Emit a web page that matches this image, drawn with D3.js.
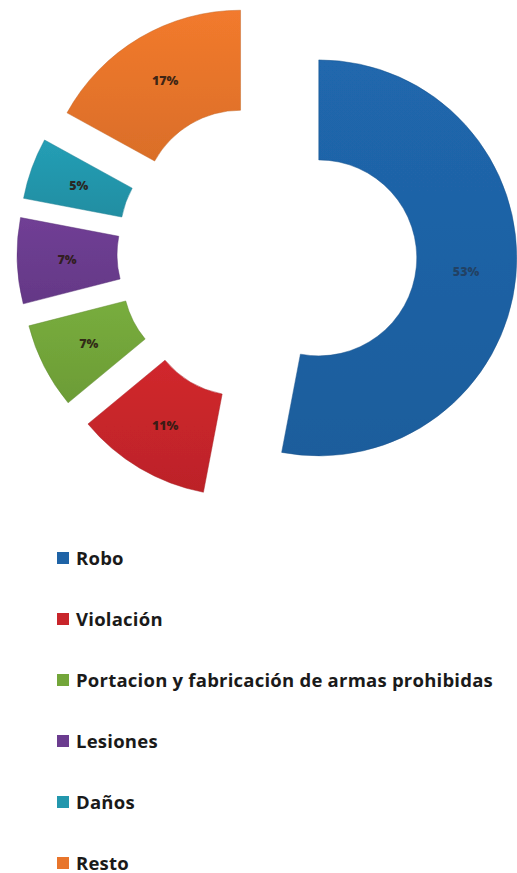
<!DOCTYPE html>
<html>
<head>
<meta charset="utf-8">
<script src="https://cdn.jsdelivr.net/npm/d3@7"></script>
<style>
  html, body { margin: 0; padding: 0; background: #ffffff; }
  svg { display: block; }
</style>
</head>
<body>
<svg id="chart" width="517" height="873"></svg>
<script>
// Delitos por tipo (porcentaje del total)
const categories = ["Robo", "Violación", "Portacion y fabricación de armas prohibidas", "Lesiones", "Daños", "Resto"];
const values = [53, 11, 7, 7, 5, 17];
const labels = ["53%", "11%", "7%", "7%", "5%", "17%"];
const colors = ["#1F63A6", "#C8252B", "#73A63A", "#6B3C8F", "#2397AD", "#E8752B"];

const svg = d3.select("#chart");

// doughnut geometry
const cx = 267, cy = 253;
const outerR = 198, innerR = 98;
const explode = 52;

const pie = d3.pie().sort(null).value(d => d.value);
const arcs = pie(categories.map((c, i) => ({ name: c, value: values[i], label: labels[i], color: colors[i] })));
const arc = d3.arc().innerRadius(innerR).outerRadius(outerR);
const labelArc = d3.arc().innerRadius((innerR + outerR) / 2).outerRadius((innerR + outerR) / 2);

const defs = svg.append("defs");
arcs.forEach((a, i) => {
  const g = defs.append("linearGradient")
    .attr("id", "grad" + i).attr("x1", 0).attr("y1", 0).attr("x2", 0).attr("y2", 1);
  const base = d3.color(a.data.color);
  g.append("stop").attr("offset", "0%").attr("stop-color", base.brighter(0.12));
  g.append("stop").attr("offset", "100%").attr("stop-color", base.darker(0.18));
});
const blur = defs.append("filter").attr("id", "soft");
blur.append("feGaussianBlur").attr("stdDeviation", 0.5);

const chart = svg.append("g").attr("transform", `translate(${cx},${cy})`);

const slices = chart.selectAll("g.slice")
  .data(arcs)
  .join("g")
  .attr("class", "slice")
  .attr("transform", d => {
    const mid = (d.startAngle + d.endAngle) / 2;
    return `translate(${explode * Math.sin(mid)},${-explode * Math.cos(mid)})`;
  });

slices.append("path")
  .attr("d", arc)
  .attr("fill", (d, i) => `url(#grad${i})`)
  .attr("stroke", d => d3.color(d.data.color).darker(0.5))
  .attr("stroke-width", 0.8)
  .attr("stroke-opacity", 0.6)
  .attr("filter", "url(#soft)");

slices.append("text")
  .attr("transform", d => `translate(${labelArc.centroid(d)})`)
  .attr("text-anchor", "middle")
  .attr("dy", "0.36em")
  .attr("font-family", "'Open Sans', Lato, sans-serif")
  .attr("font-weight", "800")
  .attr("font-size", 12.5)
  .attr("fill", "#2a1a12")
  .attr("fill-opacity", (d, i) => i === 0 ? 0.45 : 0.9)
  .text(d => d.data.label);

// legend
const legendX = 57, legendY0 = 552, legendStep = 61;
const legend = svg.append("g").attr("class", "legend");
const items = legend.selectAll("g")
  .data(arcs)
  .join("g")
  .attr("transform", (d, i) => `translate(${legendX},${legendY0 + i * legendStep})`);

items.append("rect")
  .attr("width", 12).attr("height", 12)
  .attr("fill", d => d.data.color);

const baseSize = 17;
const legendText = items.append("text")
  .attr("x", 19)
  .attr("y", 12.5)
  .attr("font-family", "'Open Sans', Lato, sans-serif")
  .attr("font-weight", "bold")
  .attr("font-size", baseSize)
  .attr("fill", "#1a1a1a")
  .text(d => d.data.name);

// size legend lettering so the longest entry spans the legend width
const targetWidth = 417;
const longest = legendText.nodes().reduce((a, n) => n.getComputedTextLength() > a.getComputedTextLength() ? n : a);
const size = Math.min(18.5, baseSize * targetWidth / longest.getComputedTextLength());
legendText.attr("font-size", size);
const spacing = (targetWidth - longest.getComputedTextLength()) / longest.textContent.length;
legendText.attr("letter-spacing", Math.max(0, spacing));
</script>
</body>
</html>
